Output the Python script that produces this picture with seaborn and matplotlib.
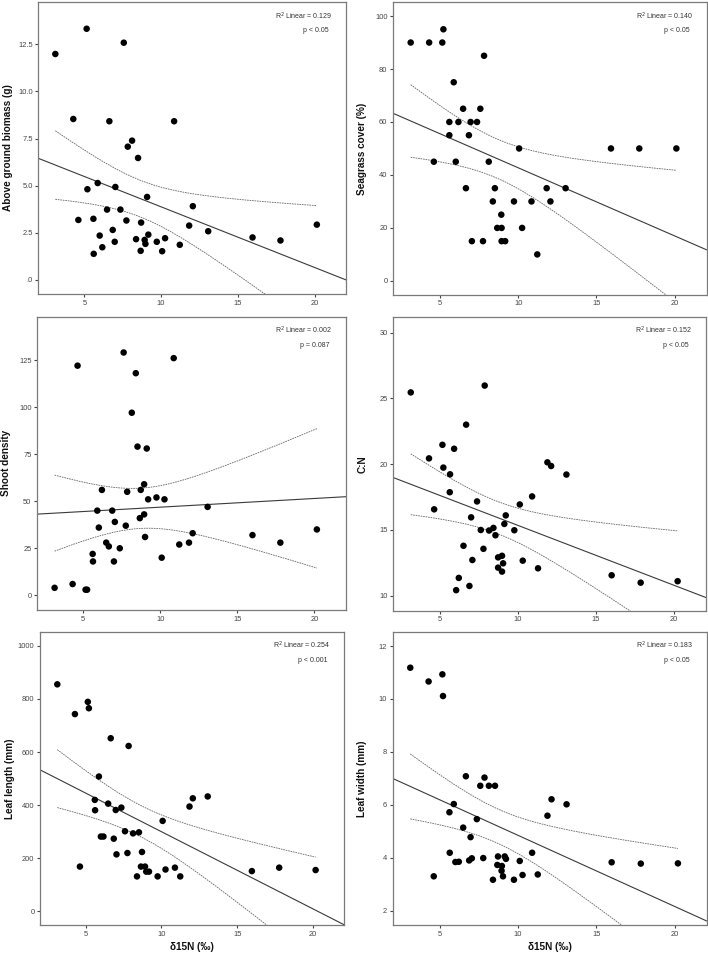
import matplotlib
matplotlib.use("Agg")
import matplotlib.pyplot as plt
import seaborn as sns
import pandas as pd
import numpy as np

# ---- data (delta15N vs. seagrass metrics) ----
x_biomass = [3.11, 5.15, 7.57, 4.28, 6.63, 10.85, 8.11, 7.83, 8.50, 5.87, 5.20, 7.02, 9.09,
             6.48, 7.35, 4.61, 5.59, 7.74, 8.70, 12.07, 11.83, 13.07, 6.85, 6.00, 9.17, 8.37,
             8.93, 10.26, 9.72, 6.98, 8.98, 6.17, 8.67, 10.07, 11.22, 5.61, 15.96, 17.78, 20.15]
y_biomass = [11.99, 13.33, 12.59, 8.54, 8.42, 8.42, 7.39, 7.07, 6.47, 5.14, 4.81, 4.93, 4.40,
             3.73, 3.73, 3.18, 3.24, 3.15, 3.04, 3.91, 2.88, 2.58, 2.65, 2.35, 2.40, 2.16,
             2.12, 2.21, 2.02, 2.02, 1.91, 1.73, 1.54, 1.52, 1.86, 1.38, 2.25, 2.09, 2.93]

x_cover = [3.13, 4.31, 5.15, 5.22, 7.82, 5.88, 5.60, 5.60, 6.18, 6.48, 6.96, 7.37, 7.58, 6.85,
           4.61, 6.01, 8.12, 10.06, 6.66, 8.51, 8.38, 9.73, 10.85, 11.82, 12.06, 13.03, 8.92,
           8.66, 8.94, 10.25, 7.04, 7.75, 8.94, 9.17, 11.22, 15.93, 17.74, 20.11]
y_cover = [90, 90, 90, 95, 85, 75, 60, 55, 60, 65, 60, 60, 65, 55,
           45, 45, 45, 50, 35, 35, 30, 30, 30, 35, 30, 35, 25,
           20, 20, 20, 15, 15, 15, 15, 10, 50, 50, 50]

x_shoot = [3.14, 4.31, 5.15, 5.25, 4.63, 7.62, 10.87, 8.41, 8.15, 8.52, 9.12, 6.21, 7.85, 8.95,
           8.73, 9.75, 9.21, 10.27, 5.91, 6.88, 13.07, 7.05, 8.95, 8.67, 6.01, 7.76, 9.01,
           12.10, 11.86, 11.23, 6.49, 6.66, 7.37, 5.61, 5.63, 6.99, 10.09, 15.98, 17.79, 20.16]
y_shoot = [4, 6, 3, 3, 122, 129, 126, 118, 97, 79, 78, 56, 55, 59,
           56, 52, 51, 51, 45, 45, 47, 39, 43, 41, 36, 37, 31,
           33, 28, 27, 28, 26, 25, 22, 18, 18, 20, 32, 28, 35]

x_cn = [3.12, 7.86, 6.67, 5.15, 5.90, 4.29, 5.21, 5.64, 5.62, 4.62, 7.37, 6.99, 11.88, 12.12,
        13.10, 10.90, 10.11, 9.21, 9.12, 7.61, 8.14, 8.42, 9.76, 8.55, 6.50, 7.78, 8.72, 8.97,
        9.04, 7.07, 10.30, 8.72, 11.28, 8.97, 6.20, 6.03, 6.88, 16.00, 17.86, 20.23]
y_cn = [25.45, 25.97, 23.0, 21.47, 21.17, 20.44, 19.74, 19.23, 17.87, 16.57, 17.17, 15.96, 20.14, 19.86,
        19.21, 17.55, 16.94, 16.11, 15.46, 15.0, 14.96, 15.16, 14.98, 14.60, 13.80, 13.57, 12.92, 13.04,
        12.47, 12.72, 12.67, 12.14, 12.09, 11.84, 11.36, 10.43, 10.75, 11.56, 11.0, 11.11]

x_length = [3.14, 5.15, 5.22, 4.30, 6.66, 7.84, 5.88, 5.61, 5.63, 6.49, 6.99, 7.36, 7.60, 8.13,
            8.52, 6.01, 6.18, 6.86, 10.08, 11.85, 12.07, 13.05, 7.04, 7.76, 8.72, 4.63, 8.65,
            8.92, 9.00, 9.18, 10.27, 10.89, 8.39, 9.75, 11.24, 15.96, 17.76, 20.16]
y_length = [855, 789, 765, 743, 652, 623, 508, 420, 381, 406, 382, 391, 302, 294,
            298, 282, 282, 274, 341, 395, 426, 433, 215, 220, 224, 169, 169,
            169, 150, 150, 158, 165, 132, 132, 132, 152, 165, 156]

x_width = [3.12, 5.17, 4.29, 5.21, 6.67, 7.86, 7.59, 8.14, 8.53, 5.90, 5.62, 12.14, 13.10, 11.88,
           7.37, 6.50, 6.97, 5.64, 10.90, 7.78, 8.72, 9.15, 9.23, 10.11, 6.00, 6.22, 6.88, 7.05,
           8.68, 8.97, 8.95, 9.04, 8.40, 9.74, 10.29, 11.26, 4.62, 15.98, 17.84, 20.21]
y_width = [11.18, 10.93, 10.66, 10.11, 7.08, 7.03, 6.72, 6.72, 6.72, 6.03, 5.72, 6.21, 6.02, 5.59,
           5.46, 5.14, 4.78, 4.19, 4.19, 3.99, 4.05, 4.05, 3.96, 3.88, 3.84, 3.85, 3.90, 3.98,
           3.73, 3.69, 3.51, 3.30, 3.17, 3.17, 3.35, 3.37, 3.30, 3.83, 3.78, 3.79]

y_labels = ["Above ground biomass (g)", "Seagrass cover (%)", "Shoot density", "C:N",
            "Leaf length (mm)", "Leaf width (mm)"]
r2_text = ["0.129", "0.140", "0.002", "0.152", "0.254", "0.183"]
p_text = ["p < 0.05", "p < 0.05", "p = 0.087", "p < 0.05", "p < 0.001", "p < 0.05"]

yticks_biomass = [0, 2.5, 5.0, 7.5, 10.0, 12.5]
yticklabels_biomass = [".0", "2.5", "5.0", "7.5", "10.0", "12.5"]
yticks_cover = [0, 20, 40, 60, 80, 100]
yticks_shoot = [0, 25, 50, 75, 100, 125]
yticks_cn = [10, 15, 20, 25, 30]
yticks_length = [0, 200, 400, 600, 800, 1000]
yticks_width = [2, 4, 6, 8, 10, 12]
xticks = [5, 10, 15, 20]

panels = [
    dict(x=x_biomass, y=y_biomass, yt=yticks_biomass, ytl=yticklabels_biomass,
         ylim=(-0.75, 14.75), rect=[0.0541, 0.6925, 0.4346, 0.3054]),
    dict(x=x_cover, y=y_cover, yt=yticks_cover, ytl=None,
         ylim=(-5.3, 105.3), rect=[0.5551, 0.6915, 0.4431, 0.3064]),
    dict(x=x_shoot, y=y_shoot, yt=yticks_shoot, ytl=None,
         ylim=(-7.8, 148), rect=[0.0523, 0.3619, 0.4364, 0.3068]),
    dict(x=x_cn, y=y_cn, yt=yticks_cn, ytl=None,
         ylim=(8.87, 31.2), rect=[0.5555, 0.3612, 0.4417, 0.3075]),
    dict(x=x_length, y=y_length, yt=yticks_length, ytl=None,
         ylim=(-51, 1053), rect=[0.0565, 0.0324, 0.4298, 0.3068]),
    dict(x=x_width, y=y_width, yt=yticks_width, ytl=None,
         ylim=(1.46, 12.54), rect=[0.5547, 0.0324, 0.4435, 0.3068]),
]

sns.set_theme(style="white")
plt.rcParams["font.family"] = ["Liberation Sans", "DejaVu Sans"]

fig = plt.figure(figsize=(7.08, 9.56), dpi=100)
frame_col = "#7a7a7a"

for i, p in enumerate(panels):
    ax = fig.add_axes(p["rect"])
    df = pd.DataFrame({"x": p["x"], "y": p["y"]})
    ax.set_xlim(2.0, 22.05)
    ax.set_ylim(*p["ylim"])

    # fit line across full axis width
    sns.regplot(data=df, x="x", y="y", scatter=False, ci=None, truncate=False,
                line_kws=dict(color="#3a3a3a", lw=0.8), ax=ax)

    # 95% confidence band of the mean, drawn as dashed curves
    xv = df["x"].to_numpy()
    yv = df["y"].to_numpy()
    n = len(xv)
    b1, b0 = np.polyfit(xv, yv, 1)
    resid = yv - (b0 + b1 * xv)
    s = np.sqrt(np.sum(resid ** 2) / (n - 2))
    xs = np.linspace(xv.min(), xv.max(), 200)
    se = s * np.sqrt(1.0 / n + (xs - xv.mean()) ** 2 / np.sum((xv - xv.mean()) ** 2))
    tval = 2.024
    fit = b0 + b1 * xs
    ax.plot(xs, fit + tval * se, color="#666666", lw=0.6, dashes=(2.0, 1.0))
    ax.plot(xs, fit - tval * se, color="#666666", lw=0.6, dashes=(2.0, 1.0))

    sns.scatterplot(data=df, x="x", y="y", color="black", s=22, edgecolor="none",
                    linewidth=0, ax=ax, zorder=5)
    ax.set_xlim(2.0, 22.05)
    ax.set_ylim(*p["ylim"])

    ax.set_xticks(xticks)
    ax.set_xticklabels([str(t) for t in xticks])
    if p["ytl"] is not None:
        ax.set_yticks(p["yt"], p["ytl"])
    else:
        ax.set_yticks(p["yt"], [str(t) for t in p["yt"]])
    ax.tick_params(axis="both", which="major", direction="out", length=2.5, width=0.8,
                   color="#444444", labelsize=5.4, labelcolor="#444444", pad=1.5,
                   bottom=True, left=True)

    for sp in ax.spines.values():
        sp.set_color(frame_col)
        sp.set_linewidth(0.9)

    ax.set_ylabel(y_labels[i], fontsize=7.2, fontweight="bold", color="#111111")
    ax.yaxis.set_label_coords(-0.083, 0.5)
    if i >= 4:
        ax.set_xlabel("\u03b415N (\u2030)", fontsize=7.2, fontweight="bold", color="#111111",
                      labelpad=3)
    else:
        ax.set_xlabel("")

    ax.text(0.955, 0.952, "R$^2$ Linear = " + r2_text[i], transform=ax.transAxes,
            ha="right", va="center", fontsize=5.0, color="#333333")
    ax.text(0.945, 0.902, p_text[i], transform=ax.transAxes,
            ha="right", va="center", fontsize=5.0, color="#333333")

fig.savefig("out.png", dpi=100, facecolor="white")
